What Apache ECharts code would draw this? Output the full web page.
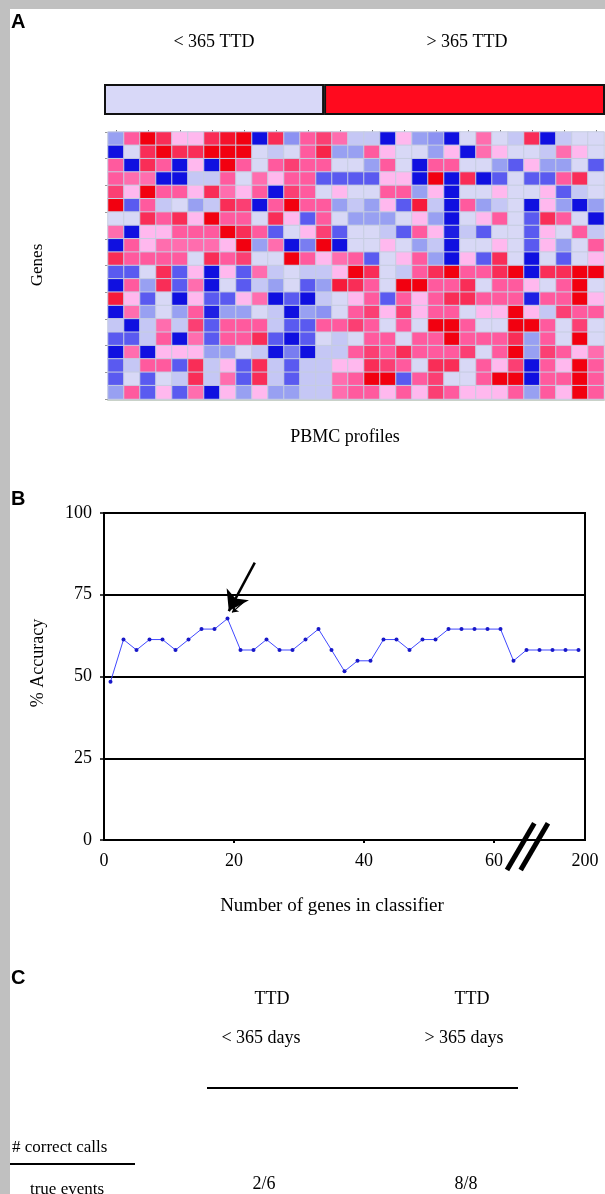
<!DOCTYPE html>
<html>
<head>
<meta charset="utf-8">
<script src="https://cdn.jsdelivr.net/npm/echarts@6/dist/echarts.min.js"></script>
<style>
html,body{margin:0;padding:0;background:#fff;}
#chart{width:605px;height:1194px;}
</style>
</head>
<body>
<div id="chart"></div>
<script>
// ---------- Panel A data ----------
const sampleLabels = Array.from({length: 31}, (_, i) => 'P' + (i + 1));
const geneLabels = Array.from({length: 20}, (_, i) => 'G' + (i + 1));
const classNames = ['< 365 TTD', '> 365 TTD'];
const classWidths = [13.75, 17.55]; // in sample-column units
const expression = [
  [-1, 2, 3, 2.5, 1, 1, 2.5, 2.8, 3, -3, 2.5, -1.2, 2, 2.3, 1.8, -0.3, -0.3, -3, 1, -1, -1.2, -3, 0, 1.8, 0, -0.3, 2.5, -3, -0.3, 0, 0],
  [-3, 0, 2.5, 3, 2.5, 2.5, 3, 3, 3, 0, -0.3, 0, 2, 2.6, -1, -1, 2, 1, 0, 0, -1, 1, -3, 1.8, 1, 0, 0, -0.3, 1.8, 1, 0],
  [2, -3, 2.5, 2, -3, 1, -3, 3, 2, 0, 2, 2.3, 2, 2, 0, 0, -1, 2, 0, -3, 2, 2, 0, 0, -1, -2, 1, -1, -1, 0, -2],
  [2, 1.8, 1.8, -3, -3, -0.3, -0.3, 2, 0, 1.8, 1, 2, 2, -2, -2, -2, -2, 1, 1, -3, 3, -3, 2.5, -3, -2, 0, -2, -2, 2, 2.5, 0],
  [2.3, 1, 3, 2, 2, 1, 2.5, 1.8, 1, 2, -3, 2.3, 2, 0, 1, 0, 0, 2, 2, -1, 1, -3, 0, 0, 1, 0, 0, 1, -2, -0.3, 0],
  [3, -2, 2, -0.3, 0, -1, -0.3, 2.5, 2.3, -3, 2, 3, 2, 2, -1, -0.3, -1, 1, -2, 2.7, -0.3, -3, 2, -1, -0.3, 0, -3, 1, -1, -3, -1],
  [0, 0, 2.5, 2, 2.5, 1, 3, 2, 2, 0, 2.5, 1, -2, 2, 0, -1, -1, -1, 0, 1, -1, -3, 0, 1, 2, 0, -2, 2.5, 2, 0, -3],
  [1.8, -3, 1, 1, 2, 2, 2, 3, 2.5, 2, -2, 0, 1, 2.3, -2, 0, 0, -0.3, -2, 2, 1, -2.8, -0.3, -2, 0, 0, -2, 1, 0, 2, -0.3],
  [-3, 2, 1, 1.8, 1.8, 1.8, 1.8, 1, 3, -1, 1.8, -3, -1.5, 3, -3, 0, 0, 1, 0, -1, -0.3, -3, 0, 0, 1, 0, -2, 1, -1, 0, 2],
  [2.5, 2, 2, 2, 2, 0, 2.5, 2, 2.3, 0, 0, 3, 2, 1, 1.8, 2, -2, 0, 1, 2, -1, -3, 1, -2, 2.5, 0, -3, 0, -2, 0, 1],
  [-2, -2, 0, 2.5, -2, 1, -3, 1, -2, 1.8, -0.3, 0, -0.3, -0.3, 1, 3, 2.5, 0, -0.3, 2, 2.5, 3, 2, 2, 2.5, 3, -3, 2.5, 2.5, 3, 3],
  [-3, 2, -1, 2.5, -2, 1.8, -3, 0, -2, -0.3, -1, 0, -2, -1, 2.7, 2.5, 2, 0, 3, 3, 2, 2, 2.5, 0, 2, 2, 1, 0, 2, 3, 0],
  [2.7, 1, -2, 0, -3, 1, -2, -2, 1, 1.8, -3, -2, -3, -0.3, 0, 1, 2, -2, 2, 1, 2, 2.5, 2.5, 2, 2, 2, -2.8, 2, 2, 3, 1],
  [-3, 1.8, -1, 0, -1, 2, -2.8, -1, -1, 0, -0.3, -3, -1, -1.2, 0, 2, 2.3, 1, 2.3, 1, 2, 2, 0, 1, 1, 3, 1, -0.3, 2.3, 2, 2],
  [-0.3, -3, -0.3, 1.8, -0.3, 2.3, -2, 2, 2, 2, -0.3, -2, -2, 2, 2, 2.3, 2, 0, 2, 0, 3, 3, 2, 0, 0, 3, 3, 2, 0, 2.3, 0],
  [-2, -2, -0.3, 2, -3, 1.8, -2, 2, 2, 2.5, -2, -3, -2, 0, -0.3, 0, 2, 2, 0, 2, 2, 3, 2, 2, 2, 2.5, -1, 2, 0, 3, 0],
  [-3, 1.8, -3, 1, 1, 1, -1, -1, 0, -0.3, -3, -1.5, -3, -0.3, -0.3, 2, 2.3, 2, 2.5, 2, 2, 2, 2.3, 0, 2, 3, -1, 2.3, 2, 1, 1.8],
  [-2, -0.3, 2, 2, -2, 2.5, -0.3, 1, -2, 2.5, -0.3, -2, -0.3, -0.3, 1, 1, 2.5, 2.3, 2, 0, 2.5, 2.5, 0, 2, 1, 2.3, -3, 2, 1, 3, 2],
  [-2, 0, -2, 0, -0.3, 2.5, -0.3, 1.8, -2, 2.5, -0.3, -2, -0.3, -0.3, 1.8, 2, 3, 3, -2, 2, 2.3, 0, 0, 2, 3, 3, -3, 2, 2, 3, 2],
  [-1, 2, -2, 1, -2, 1.8, -3, 1, -1, 1, -1, -1, -0.3, -0.3, 1.8, 2, 2, 1, 2, 1, 2.3, 2, 1, 1, 1, 2, -1, 2, 1, 3, 2]
];

// ---------- Panel B data ----------
const xPositions = [1, 3, 5, 7, 9, 11, 13, 15, 17, 19, 21, 23, 25, 27, 29, 31, 33, 35, 37, 39, 41, 43, 45, 47, 49, 51, 53, 55, 57, 59, 61, 63, 65, 67, 69, 71, 73];
const accuracy = [48.4, 61.3, 58.1, 61.3, 61.3, 58.1, 61.3, 64.5, 64.5, 67.7, 58.1, 58.1, 61.3, 58.1, 58.1, 61.3, 64.5, 58.1, 51.6, 54.8, 54.8, 61.3, 61.3, 58.1, 61.3, 61.3, 64.5, 64.5, 64.5, 64.5, 64.5, 54.8, 58.1, 58.1, 58.1, 58.1, 58.1];
const xTickPositions = [0, 20, 40, 60, 74];
const xTickLabels = ['0', '20', '40', '60', '200'];
const arrowMain = [[23.2, 84.8], [19.2, 70.0]];
const arrowEcho = [[21.5, 72.8], [19.7, 69.6]];
const breakMarks = [[[62, -9.2], [66.2, 5.1]], [[64.1, -9.2], [68.3, 5.1]]];

// ---------- Panel C data ----------
const cHeaders = ['TTD', 'TTD'];
const cSubHeaders = ['< 365 days', '> 365 days'];
const cValues = ['2/6', '8/8'];
const cRowLabels = ['# correct calls', 'true events'];

const SERIF = "'Liberation Serif', 'Times New Roman', serif";
const SANS = "'Liberation Sans', Arial, sans-serif";

const heatData = [];
expression.forEach((row, r) => row.forEach((v, c) => heatData.push([c, r, v])));

function txt(text, x, y, size, opts) {
  opts = opts || {};
  return {
    type: 'text', x: x, y: y, rotation: opts.rotation || 0, silent: true, z: 100,
    style: {
      text: text, fill: '#000', fontSize: size,
      fontFamily: opts.family || SERIF, fontWeight: opts.weight || 'normal',
      align: opts.align || 'center', verticalAlign: opts.valign || 'middle'
    }
  };
}

const chart = echarts.init(document.getElementById('chart'), null, {renderer: 'canvas'});
const option = {
  animation: false,
  backgroundColor: '#ffffff',
  grid: [
    {left: 104, top: 84, width: 501, height: 31},      // class bar
    {left: 108, top: 132, width: 496, height: 267},    // heatmap
    {left: 104, top: 513, width: 481, height: 327, show: true, borderColor: '#000', borderWidth: 2} // accuracy
  ],
  xAxis: [
    {gridIndex: 0, type: 'value', min: 0, max: 31.3, show: false},
    {gridIndex: 1, type: 'category', data: sampleLabels, position: 'top',
      axisLine: {show: false}, axisLabel: {show: false},
      axisTick: {show: true, alignWithLabel: true, length: 2, lineStyle: {color: '#777', width: 1}}},
    {gridIndex: 1, type: 'category', data: sampleLabels, position: 'bottom', offset: 1,
      axisLine: {show: true, lineStyle: {color: '#c9d2c9', width: 2}}, axisLabel: {show: false}, axisTick: {show: false}},
    {gridIndex: 2, type: 'value', min: 0, max: 74,
      axisLine: {show: true, lineStyle: {color: '#000', width: 2}},
      axisTick: {show: true, customValues: [20, 40, 60], length: 3, lineStyle: {color: '#000', width: 2}},
      axisLabel: {customValues: xTickPositions, margin: 12, fontSize: 18, fontFamily: SERIF, color: '#000',
        formatter: v => xTickLabels[xTickPositions.indexOf(v)]},
      splitLine: {show: false}}
  ],
  yAxis: [
    {gridIndex: 0, type: 'category', data: ['class'], show: false},
    {gridIndex: 1, type: 'category', data: geneLabels, inverse: true,
      axisLine: {show: false}, axisLabel: {show: false},
      axisTick: {show: true, length: 3, lineStyle: {color: '#999', width: 1}}},
    {gridIndex: 2, type: 'value', min: 0, max: 100, interval: 25,
      axisLine: {show: true, lineStyle: {color: '#000', width: 2}},
      axisTick: {show: true, length: 4, lineStyle: {color: '#000', width: 1.5}},
      axisLabel: {margin: 12, fontSize: 18, fontFamily: SERIF, color: '#000'},
      splitLine: {show: true, lineStyle: {color: '#000', width: 2}}}
  ],
  visualMap: {
    show: false, type: 'continuous', seriesIndex: 2, dimension: 2, min: -3, max: 3,
    inRange: {color: ['#1010e0', '#5a5af0', '#98a0f2', '#d8d8f6', '#ffb8ee', '#ff5a9e', '#f20010']}
  },
  series: [
    {type: 'bar', xAxisIndex: 0, yAxisIndex: 0, stack: 'cls', barWidth: '100%', silent: true,
      data: [classWidths[0]], name: classNames[0],
      itemStyle: {color: '#d8d8f8', borderColor: '#111', borderWidth: 2}},
    {type: 'bar', xAxisIndex: 0, yAxisIndex: 0, stack: 'cls', barWidth: '100%', silent: true,
      data: [classWidths[1]], name: classNames[1],
      itemStyle: {color: '#ff0a1e', borderColor: '#111', borderWidth: 2}},
    {type: 'heatmap', xAxisIndex: 1, yAxisIndex: 1, data: heatData, silent: true,
      itemStyle: {borderColor: '#c6cde0', borderWidth: 1}},
    {type: 'line', xAxisIndex: 3, yAxisIndex: 2, silent: true,
      data: xPositions.map((x, i) => [x, accuracy[i]]),
      lineStyle: {color: '#4048ff', width: 1},
      symbol: 'circle', symbolSize: 4, itemStyle: {color: '#1818c8'}},
    {type: 'lines', coordinateSystem: 'cartesian2d', xAxisIndex: 3, yAxisIndex: 2, clip: false, silent: true,
      symbol: ['none', 'arrow'], symbolSize: 19, z: 5,
      lineStyle: {color: '#000', width: 2.5, opacity: 1, type: 'solid', curveness: 0},
      data: [{coords: arrowMain}]},
    {type: 'lines', coordinateSystem: 'cartesian2d', xAxisIndex: 3, yAxisIndex: 2, clip: false, silent: true,
      symbol: ['none', 'arrow'], symbolSize: 6, z: 5,
      lineStyle: {color: '#000', width: 1.2, opacity: 1, type: 'solid', curveness: 0},
      data: [{coords: arrowEcho}]},
    {type: 'lines', coordinateSystem: 'cartesian2d', xAxisIndex: 3, yAxisIndex: 2, clip: false, silent: true,
      symbol: ['none', 'none'], z: 5,
      lineStyle: {color: '#000', width: 5, opacity: 1, type: 'solid', curveness: 0},
      data: breakMarks.map(b => ({coords: b}))}
  ],
  graphic: [
    {type: 'rect', shape: {x: 0, y: 0, width: 605, height: 9}, style: {fill: '#c0c0c0'}, silent: true, z: 50},
    {type: 'rect', shape: {x: 0, y: 0, width: 10, height: 1194}, style: {fill: '#c0c0c0'}, silent: true, z: 50},
    txt('A', 11, 22, 20, {family: SANS, weight: 'bold', align: 'left'}),
    txt(classNames[0], 214, 42, 18),
    txt(classNames[1], 467, 42, 18),
    txt('Genes', 38, 265, 17, {rotation: Math.PI / 2}),
    txt('PBMC profiles', 345, 437, 18),
    txt('B', 11, 499, 20, {family: SANS, weight: 'bold', align: 'left'}),
    txt('% Accuracy', 38, 663, 18, {rotation: Math.PI / 2}),
    txt('Number of genes in classifier', 332, 906, 19),
    txt('C', 11, 978, 20, {family: SANS, weight: 'bold', align: 'left'}),
    txt(cHeaders[0], 272, 999, 18),
    txt(cHeaders[1], 472, 999, 18),
    txt(cSubHeaders[0], 261, 1038, 18),
    txt(cSubHeaders[1], 464, 1038, 18),
    {type: 'line', shape: {x1: 207, y1: 1088, x2: 518, y2: 1088}, style: {stroke: '#000', lineWidth: 2}, silent: true},
    txt(cRowLabels[0], 12, 1148, 17, {align: 'left'}),
    {type: 'line', shape: {x1: 10, y1: 1164, x2: 135, y2: 1164}, style: {stroke: '#000', lineWidth: 2}, silent: true},
    txt(cRowLabels[1], 67, 1190, 17),
    txt(cValues[0], 264, 1184, 18),
    txt(cValues[1], 466, 1184, 18)
  ]
};
chart.setOption(option);
</script>
</body>
</html>
